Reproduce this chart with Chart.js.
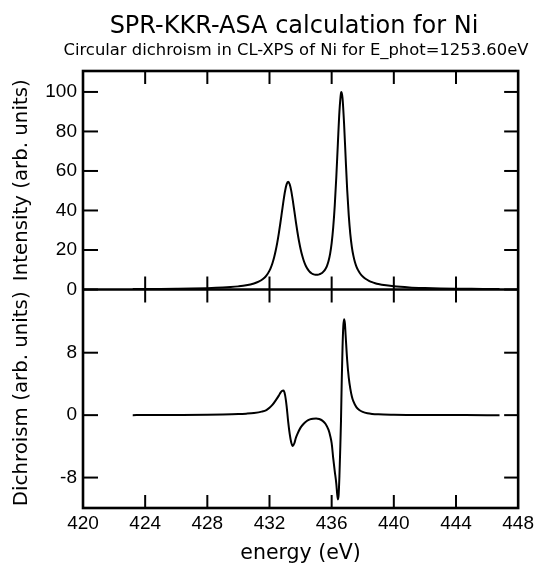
<!DOCTYPE html>
<html>
<head>
<meta charset="utf-8">
<script src="https://cdn.jsdelivr.net/npm/chart.js@4/dist/chart.umd.min.js"></script>
<style>
html,body{margin:0;padding:0;background:#ffffff;}
#wrap{width:538px;height:566px;}
</style>
</head>
<body>
<div id="wrap"><canvas id="c" width="538" height="566"></canvas></div>
<script>
// ---- data ----
const titleText = 'SPR-KKR-ASA calculation for Ni';
const subtitleText = 'Circular dichroism in CL-XPS of Ni for E_phot=1253.60eV';
const xTitle = 'energy (eV)';
const yTitleTop = 'Intensity (arb. units)';
const yTitleBottom = 'Dichroism (arb. units)';

const energyTicks = [420, 424, 428, 432, 436, 440, 444, 448];
const intensityTicks = [0, 20, 40, 60, 80, 100];
const dichroismTicks = [-8, 0, 8];

const energyI = [423.2,424,425,426,427,428,429,429.5,430,430.5,
  431,431.3,431.6,431.8,
  432.0,432.1,432.2,432.3,432.4,432.5,432.6,432.7,432.8,432.9,433.0,
  433.1,433.2,433.3,433.4,433.5,433.6,433.7,433.8,433.9,434.0,
  434.1,434.2,434.3,434.4,434.5,434.6,434.7,434.8,434.9,435.0,
  435.1,435.2,435.3,435.4,435.5,435.6,435.7,435.8,435.9,436.0,
  436.1,436.2,436.3,436.4,436.5,436.6,436.63,
  436.7,436.8,436.9,437.0,437.1,437.2,437.3,437.4,437.5,437.6,437.7,437.8,437.9,438.0,
  438.2,438.4,438.6,438.8,439.0,
  439.5,440,441,442,443,444,445,446,446.8];
const intensity = [0.20,0.23,0.28,0.36,0.47,0.65,0.96,1.21,1.58,2.13,
  3.07,3.97,5.44,7.03,
  9.56,11.34,13.57,16.34,19.7,23.7,28.4,33.66,39.25,44.83,49.75,
  53.21,54.5,53.3,49.94,45.11,39.63,34.14,28.99,24.43,20.53,
  17.29,14.66,12.58,10.97,9.77,8.85,8.21,7.79,7.53,7.42,
  7.46,7.65,7.99,8.52,9.29,10.39,12.0,14.39,18.01,23.47,
  31.45,42.58,57.05,73.92,90.05,99.43,100.0,
  96.82,83.8,66.65,50.37,37.5,28.0,21.5,17.0,13.8,11.5,9.8,8.5,7.4,6.6,
  5.3,4.4,3.7,3.2,2.8,
  2.1,1.6,1.05,0.75,0.55,0.42,0.33,0.27,0.23];

const energyD = [423.2,424,426,428,429,430,430.5,431,431.5,431.8,
  432.0,432.2,432.4,432.6,
  432.7,432.8,432.9,433.0,433.1,433.2,433.3,433.4,433.5,433.6,433.7,433.8,
  434.0,434.2,434.4,434.6,434.8,435.0,435.2,435.4,435.6,435.8,
  435.9,436.0,436.1,436.2,436.3,
  436.35,436.4,436.45,436.5,436.55,436.6,436.65,436.7,436.75,436.8,436.85,436.9,
  437.0,437.1,437.2,437.3,437.4,
  437.6,437.8,438.0,
  438.3,438.6,439,
  440,441,442,444,446,446.8];
const dichroism = [0,0.01,0.02,0.04,0.07,0.13,0.19,0.28,0.45,0.65,
  0.95,1.35,1.9,2.5,
  2.85,3.1,3.15,2.6,1.2,-0.8,-2.4,-3.5,-3.95,-3.6,-2.9,-2.4,
  -1.6,-1.1,-0.75,-0.55,-0.45,-0.42,-0.5,-0.7,-1.1,-1.9,
  -2.6,-3.6,-5.5,-7.2,-8.8,
  -10.0,-10.8,-10.2,-7.8,-4.5,-0.8,4.5,8.7,11.4,12.3,11.8,10.2,
  7.0,4.8,3.4,2.4,1.75,
  1.0,0.62,0.42,
  0.25,0.16,0.1,
  0.05,0.03,0.02,0.01,0,0];

// ---- chart ----
const FONT = 'DejaVu Sans';
const TICKFONT = 'Liberation Sans';

function fixTicks(values){
  return function(scale){ scale.ticks = values.map(v => ({value: v})); };
}

const titlePlugin = {
  id: 'headings',
  afterDraw(chart){
    const ctx = chart.ctx;
    ctx.save();
    ctx.fillStyle = '#000';
    ctx.textAlign = 'center';
    ctx.textBaseline = 'alphabetic';
    ctx.font = '24px "' + FONT + '"';
    ctx.fillText(titleText, 294, 33);
    ctx.font = '16.4px "' + FONT + '"';
    ctx.fillText(subtitleText, 296, 55);
    ctx.restore();
  }
};

const framePlugin = {
  id: 'frame',
  afterDatasetsDraw(chart){
    const ctx = chart.ctx;
    const a = chart.chartArea;
    const sx = chart.scales.x, sI = chart.scales.yI, sD = chart.scales.yD;
    const seg = (x1,y1,x2,y2) => { ctx.beginPath(); ctx.moveTo(x1,y1); ctx.lineTo(x2,y2); ctx.stroke(); };
    ctx.save();
    ctx.strokeStyle = '#000';
    ctx.lineWidth = 2;
    const pairs = [[sI, intensityTicks], [sD, dichroismTicks]];
    for (const [s, vals] of pairs) {
      for (const v of vals) {
        const py = s.getPixelForValue(v);
        seg(a.left, py, a.left + 15, py);
        seg(a.right - 14, py, a.right, py);
      }
    }
    const yTop = sI.top, yMid = sI.bottom, yBot = sD.bottom;
    for (const v of energyTicks) {
      const px = sx.getPixelForValue(v);
      if (px <= a.left + 1 || px >= a.right - 1) continue;
      seg(px, yTop, px, yTop + 13);
      seg(px, yMid - 13, px, yMid + 13);
      seg(px, yBot - 13, px, yBot);
    }
    ctx.lineWidth = 2.6;
    ctx.strokeRect(a.left, a.top, a.right - a.left, a.bottom - a.top);
    seg(a.left, yMid, a.right, yMid);
    ctx.restore();
  }
};

const yCommon = {
  type: 'linear',
  position: 'left',
  stack: 'panels',
  stackWeight: 1,
  grid: {display: false, drawTicks: false},
  border: {display: false},
  afterFit(scale){ scale.width = 83; },
  ticks: {color: '#000', font: {family: TICKFONT, size: 19}, padding: 6, autoSkip: false}
};

new Chart(document.getElementById('c'), {
  type: 'line',
  data: {
    datasets: [
      {
        label: 'Dichroism',
        data: energyD.map((e, i) => ({x: e, y: dichroism[i]})),
        yAxisID: 'yD',
        borderColor: '#000', borderWidth: 2, pointRadius: 0,
        cubicInterpolationMode: 'monotone', fill: false
      },
      {
        label: 'Intensity',
        data: energyI.map((e, i) => ({x: e, y: intensity[i]})),
        yAxisID: 'yI',
        borderColor: '#000', borderWidth: 2, pointRadius: 0,
        cubicInterpolationMode: 'monotone', fill: false
      }
    ]
  },
  options: {
    responsive: false,
    animation: false,
    events: [],
    layout: {padding: {top: 71, right: 18, bottom: 0, left: 0}},
    plugins: {
      legend: {display: false},
      tooltip: {enabled: false},
      title: {display: false},
      subtitle: {display: false}
    },
    scales: {
      x: {
        type: 'linear', min: 420, max: 448,
        afterBuildTicks: fixTicks(energyTicks),
        afterFit(scale){ scale.height = 58; },
        grid: {display: false, drawTicks: false},
        border: {display: false},
        ticks: {color: '#000', font: {family: TICKFONT, size: 19}, padding: 4, maxRotation: 0, autoSkip: false},
        title: {display: true, text: xTitle, color: '#000', font: {family: FONT, size: 20.5}, padding: {top: 0, bottom: 0}}
      },
      yD: Object.assign({}, yCommon, {
        min: -11.9, max: 16.1,
        afterBuildTicks: fixTicks(dichroismTicks),
        title: {display: true, text: yTitleBottom, color: '#000', font: {family: FONT, size: 19.8}, padding: {top: 10, bottom: 0}}
      }),
      yI: Object.assign({}, yCommon, {
        min: 0, max: 110.6,
        afterBuildTicks: fixTicks(intensityTicks),
        title: {display: true, text: yTitleTop, color: '#000', font: {family: FONT, size: 19.8}, padding: {top: 10, bottom: 0}}
      })
    }
  },
  plugins: [framePlugin, titlePlugin]
});
</script>
</body>
</html>
